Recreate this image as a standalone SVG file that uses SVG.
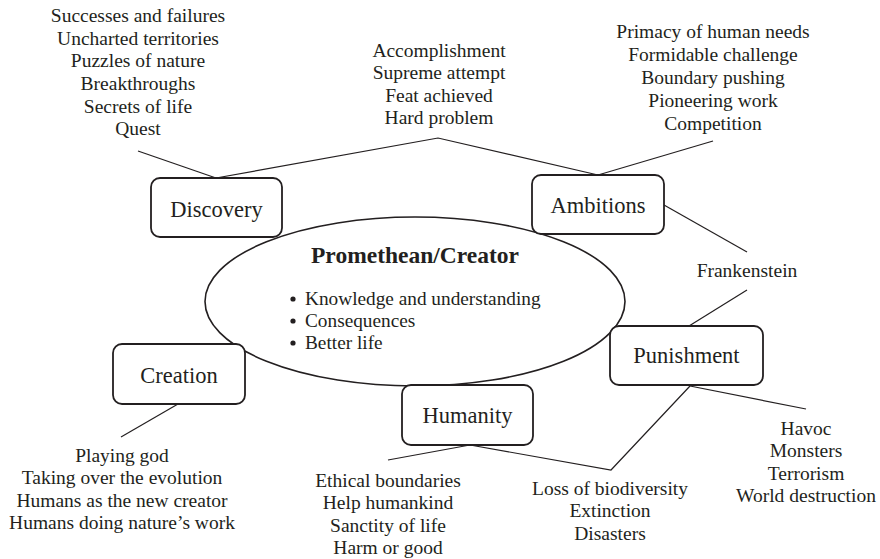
<svg xmlns="http://www.w3.org/2000/svg" width="880" height="559" viewBox="0 0 880 559" font-family="'Liberation Serif', serif">
<style>
text{font-family:'Liberation Serif',serif;fill:#231f20}
.lst{font-size:19.5px;text-anchor:middle}
.lbl{font-size:22.5px;text-anchor:middle}
.ttl{font-size:23.5px;font-weight:bold;text-anchor:middle}
.bul{font-size:19.3px}
.box{fill:#fff;stroke:#231f20;stroke-width:1.8}
.con{fill:none;stroke:#231f20;stroke-width:1.2}
</style>
<rect width="880" height="559" fill="#fff"/>
<g id="connectors">
<line class="con" x1="138" y1="151" x2="216" y2="178"/>
<polyline class="con" points="216,178 438,138 598,175"/>
<line class="con" x1="598" y1="175" x2="713" y2="141"/>
<line class="con" x1="664" y1="205" x2="747" y2="252"/>
<line class="con" x1="747" y1="290" x2="689" y2="326"/>
<line class="con" x1="690" y1="386" x2="806" y2="409"/>
<polyline class="con" points="690,386 611,470 470,445"/>
<line class="con" x1="470" y1="445" x2="388" y2="460"/>
<line class="con" x1="178" y1="404" x2="121" y2="437"/>
</g>
<g id="center">
<ellipse cx="415" cy="301.5" rx="210" ry="84.5" fill="#fff" stroke="#231f20" stroke-width="1.6"/>
<text class="ttl" x="415" y="263">Promethean/Creator</text>
<circle cx="293" cy="299" r="2.6" fill="#231f20"/>
<circle cx="293" cy="321" r="2.6" fill="#231f20"/>
<circle cx="293" cy="343" r="2.6" fill="#231f20"/>
<text class="bul" x="305" y="305">Knowledge and understanding</text>
<text class="bul" x="305" y="327">Consequences</text>
<text class="bul" x="305" y="349">Better life</text>
</g>
<g id="discovery">
<rect class="box" x="151" y="178" width="131" height="59" rx="9"/>
<text class="lbl" x="216.5" y="217">Discovery</text>
</g>
<g id="ambitions">
<rect class="box" x="532" y="175" width="132" height="59" rx="9"/>
<text class="lbl" x="598" y="213">Ambitions</text>
</g>
<g id="creation">
<rect class="box" x="113" y="344" width="132" height="60" rx="9"/>
<text class="lbl" x="179" y="383">Creation</text>
</g>
<g id="humanity">
<rect class="box" x="402" y="385" width="131" height="60" rx="9"/>
<text class="lbl" x="467.5" y="423">Humanity</text>
</g>
<g id="punishment">
<rect class="box" x="610" y="326" width="153" height="59" rx="9"/>
<text class="lbl" x="686.5" y="363">Punishment</text>
</g>
<g id="discovery-terms">
<text class="lst" x="138" y="22">Successes and failures</text>
<text class="lst" x="138" y="45">Uncharted territories</text>
<text class="lst" x="138" y="67">Puzzles of nature</text>
<text class="lst" x="138" y="90">Breakthroughs</text>
<text class="lst" x="138" y="113">Secrets of life</text>
<text class="lst" x="138" y="135">Quest</text>
</g>
<g id="accomplishment-terms">
<text class="lst" x="439" y="57">Accomplishment</text>
<text class="lst" x="439" y="79">Supreme attempt</text>
<text class="lst" x="439" y="102">Feat achieved</text>
<text class="lst" x="439" y="124">Hard problem</text>
</g>
<g id="ambitions-terms">
<text class="lst" x="713" y="38">Primacy of human needs</text>
<text class="lst" x="713" y="61">Formidable challenge</text>
<text class="lst" x="713" y="84">Boundary pushing</text>
<text class="lst" x="713" y="107">Pioneering work</text>
<text class="lst" x="713" y="130">Competition</text>
</g>
<g id="frankenstein">
<text class="lst" x="747" y="277">Frankenstein</text>
</g>
<g id="punishment-terms">
<text class="lst" x="806" y="435">Havoc</text>
<text class="lst" x="806" y="457">Monsters</text>
<text class="lst" x="806" y="480">Terrorism</text>
<text class="lst" x="806" y="502">World destruction</text>
</g>
<g id="loss-terms">
<text class="lst" x="610" y="495">Loss of biodiversity</text>
<text class="lst" x="610" y="517">Extinction</text>
<text class="lst" x="610" y="540">Disasters</text>
</g>
<g id="humanity-terms">
<text class="lst" x="388" y="487">Ethical boundaries</text>
<text class="lst" x="388" y="509">Help humankind</text>
<text class="lst" x="388" y="532">Sanctity of life</text>
<text class="lst" x="388" y="554">Harm or good</text>
</g>
<g id="creation-terms">
<text class="lst" x="122" y="462">Playing god</text>
<text class="lst" x="122" y="484">Taking over the evolution</text>
<text class="lst" x="122" y="507">Humans as the new creator</text>
<text class="lst" x="122" y="529">Humans doing nature’s work</text>
</g>
</svg>
